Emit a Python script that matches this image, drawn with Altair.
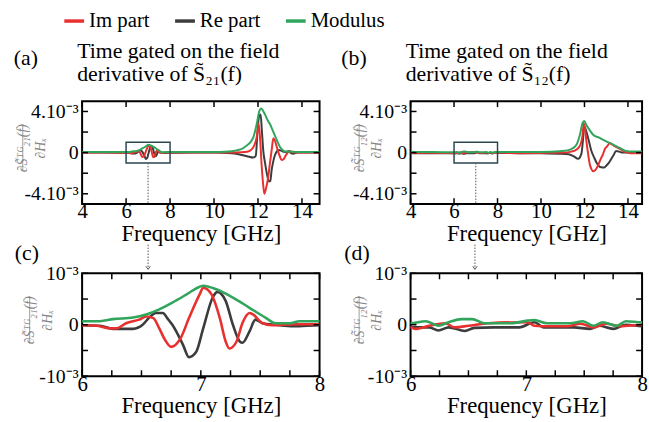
import altair as alt
import pandas as pd

# ---------------- data (values in units of 1e-3) ----------------
# S21 side : panels (a) and (c)
s21_im_f = [4.0, 5.0, 6.0, 6.12, 6.23, 6.29, 6.37, 6.48, 6.54, 6.6, 6.65, 6.7, 6.75, 6.83, 6.9, 6.99,
            7.02, 7.09, 7.16, 7.21, 7.24, 7.3, 7.35, 7.41, 7.44, 7.52, 7.6, 7.8, 8.0, 9.0, 10.0, 11.0,
            11.4, 11.6, 11.75, 11.86, 11.95, 12.03, 12.1, 12.17, 12.23, 12.29, 12.35, 12.47, 12.55,
            12.62, 12.7, 12.78, 12.85, 12.92, 13.0, 13.08, 13.16, 13.23, 13.3, 13.38, 13.45, 13.55,
            13.7, 14.0, 14.8]
s21_im_v = [0.0, 0.0, -0.01, -0.02, -0.07, -0.07, 0.03, 0.1, 0.16, 0.13, -0.07, -0.3, -0.43, -0.26,
            0.13, 0.59, 0.72, 0.59, 0.13, -0.33, -0.46, -0.33, 0.03, 0.23, 0.2, 0.03, -0.01, 0.01, 0.01,
            0.0, 0.0, 0.02, 0.05, 0.15, 0.4, 0.86, 1.6, 2.8, 1.2, -1.36, -3.0, -4.0, -3.6, -2.3, -0.9,
            0.22, 1.4, 1.1, 0.6, 0.07, -0.4, -0.73, -0.65, -0.4, -0.15, 0.05, 0.15, 0.05, 0.0, 0.0, 0.0]

s21_re_f = [4.0, 5.0, 6.0, 6.15, 6.26, 6.43, 6.51, 6.57, 6.62, 6.68, 6.72, 6.76, 6.85, 6.9, 6.96,
            7.02, 7.1, 7.14, 7.21, 7.27, 7.33, 7.35, 7.41, 7.46, 7.52, 7.63, 7.78, 8.0, 9.0, 10.0,
            10.8, 11.2, 11.5, 11.79, 11.9, 11.97, 12.05, 12.12, 12.18, 12.24, 12.32, 12.4, 12.5,
            12.56, 12.62, 12.7, 12.77, 12.85, 12.95, 13.1, 13.25, 13.4, 13.5, 13.6, 13.8, 14.2, 14.8]
s21_re_v = [0.0, 0.0, -0.01, -0.02, -0.08, -0.08, 0.0, 0.15, 0.23, 0.23, 0.12, 0.0, -0.39, -0.63,
            -0.53, -0.07, 0.53, 0.64, 0.46, 0.0, -0.33, -0.35, -0.13, 0.1, 0.03, 0.0, -0.03, -0.01,
            0.0, 0.0, -0.05, -0.2, -0.35, -0.48, -0.3, 1.8, 3.55, 3.7, 2.0, 0.2, -1.0, -2.0, -2.8,
            -2.75, -1.7, -0.8, -0.26, 0.1, 0.25, 0.15, 0.05, 0.15, -0.05, -0.1, 0.0, 0.0, 0.0]

s21_mod_f = [4.0, 5.0, 6.0, 6.15, 6.26, 6.43, 6.54, 6.65, 6.76, 6.88, 6.99, 7.02, 7.13, 7.27, 7.41,
             7.55, 7.63, 7.75, 7.83, 8.0, 9.0, 10.0, 10.5, 11.03, 11.3, 11.49, 11.65, 11.79, 11.94,
             12.06, 12.14, 12.22, 12.32, 12.45, 12.55, 12.66, 12.77, 12.9, 13.0, 13.12, 13.23, 13.4,
             13.6, 14.0, 14.8]
s21_mod_v = [0.05, 0.05, 0.07, 0.07, 0.11, 0.14, 0.2, 0.3, 0.43, 0.59, 0.74, 0.76, 0.69, 0.53, 0.33,
             0.13, 0.03, 0.03, 0.07, 0.07, 0.05, 0.05, 0.08, 0.22, 0.4, 0.7, 1.0, 1.5, 2.76, 4.03,
             4.3, 4.1, 3.7, 3.1, 2.76, 2.2, 1.65, 1.0, 0.54, 0.25, 0.1, 0.1, 0.08, 0.05, 0.05]

# S12 side : panels (b) and (d)
s12_im_f = [4.0, 5.0, 5.6, 6.0, 6.04, 6.16, 6.3, 6.38, 6.5, 6.67, 7.01, 7.07, 7.2, 7.35, 7.47, 7.58,
            7.69, 7.81, 8.0, 8.5, 9.0, 10.0, 11.0, 11.4, 11.64, 11.8, 11.9, 11.97, 12.03, 12.09,
            12.16, 12.24, 12.32, 12.4, 12.5, 12.62, 12.75, 12.85, 12.95, 13.05, 13.15, 13.3, 13.45,
            13.6, 13.75, 13.9, 14.1, 14.65]
s12_im_v = [-0.03, -0.02, -0.04, -0.05, -0.08, -0.02, 0.03, -0.05, -0.02, 0.03, 0.05, -0.02, -0.03,
            -0.03, 0.02, -0.05, 0.02, -0.03, 0.0, -0.03, -0.05, -0.03, 0.0, 0.1, 0.3, 0.7, 1.5, 2.86,
            2.2, 1.1, 0.0, -1.1, -1.6, -1.81, -1.7, -1.27, -0.6, -0.16, 0.4, 0.63, 0.9, 0.75, 0.55,
            0.4, 0.2, 0.05, -0.05, -0.05]

s12_re_f = [4.0, 5.0, 6.0, 6.16, 6.24, 6.33, 6.47, 6.55, 6.72, 6.94, 7.07, 7.15, 7.41, 7.55, 7.63,
            7.75, 7.86, 8.0, 9.0, 10.0, 10.8, 11.27, 11.5, 11.71, 11.86, 11.93, 11.99, 12.08, 12.17,
            12.32, 12.45, 12.55, 12.77, 12.9, 13.0, 13.12, 13.23, 13.35, 13.45, 13.6, 13.75, 14.0,
            14.65]
s12_re_v = [-0.05, -0.05, -0.05, -0.05, -0.11, -0.05, -0.12, -0.06, -0.05, -0.05, 0.05, -0.05, -0.05,
            -0.08, -0.02, -0.08, 0.0, -0.03, -0.05, -0.05, -0.1, -0.16, -0.35, -0.6, -0.1, 1.2, 2.54,
            2.1, 1.4, 0.16, -0.5, -0.95, -1.43, -1.45, -1.27, -1.0, -0.63, -0.2, 0.16, 0.1, 0.0, 0.0,
            0.0]

s12_mod_f = [4.0, 5.0, 6.0, 6.13, 6.24, 6.33, 6.44, 6.53, 6.64, 6.87, 7.01, 7.07, 7.18, 7.38, 7.49,
             7.58, 7.66, 7.78, 7.86, 8.0, 9.0, 10.0, 11.0, 11.4, 11.64, 11.79, 11.91, 11.99, 12.08,
             12.17, 12.4, 12.7, 13.0, 13.3, 13.6, 13.9, 14.2, 14.65]
s12_mod_v = [0.05, 0.06, 0.03, 0.07, -0.02, 0.05, 0.11, 0.11, 0.03, 0.03, 0.08, 0.09, 0.03, 0.03,
             0.07, -0.02, 0.05, -0.02, 0.07, 0.05, 0.06, 0.05, 0.15, 0.35, 0.8, 1.74, 2.86, 3.08,
             2.7, 2.4, 1.74, 1.43, 1.1, 0.8, 0.48, 0.16, 0.1, 0.1]

SERIES = ["Im part", "Re part", "Modulus"]
COLORS = ["#e8302e", "#3c3c3c", "#31a55c"]
DRAW_ORDER = ["Re part", "Im part", "Modulus"]

big_ticks_x = [4, 6, 8, 10, 12, 14]
big_ticks_y = [-4, -2, 0, 2, 4]
big_labels_y = [-4, 0, 4]
zoom_ticks_x = [6, 6.25, 6.5, 6.75, 7, 7.25, 7.5, 7.75, 8]
zoom_labels_x = [6, 7, 8]
zoom_ticks_y = [-1, -0.5, 0, 0.5, 1]
zoom_labels_y = [-1, 0, 1]

FONT = "Liberation Serif"


def make_df(parts):
    rows = []
    for name, f, v in parts:
        for a, b in zip(f, v):
            rows.append({"series": name, "f": a, "v": b})
    return pd.DataFrame(rows)


df21 = make_df([("Re part", s21_re_f, s21_re_v), ("Im part", s21_im_f, s21_im_v),
                ("Modulus", s21_mod_f, s21_mod_v)])
df12 = make_df([("Re part", s12_re_f, s12_re_v), ("Im part", s12_im_f, s12_im_v),
                ("Modulus", s12_mod_f, s12_mod_v)])

legend = alt.Legend(orient="none", legendX=-20, legendY=-93, direction="horizontal", title=None,
                    symbolType="stroke", symbolStrokeWidth=3.5, symbolSize=400,
                    labelFont=FONT, labelFontSize=21, labelColor="black", labelOffset=3,
                    columnPadding=18, padding=0)


def panel(df, W, H, xdom, ydom, xlabels, xticks, ylabels, yticks, ylabel_expr, tag, tag_xy,
          title_text, sub, frac_x, lw, box=None, drop=None, arrow=None, anchor=False):
    xs = alt.Scale(domain=xdom, nice=False, zero=False)
    ys = alt.Scale(domain=ydom, nice=False, zero=False)
    xaxis = alt.Axis(values=xlabels, format="~g", ticks=False, domain=False, grid=False,
                     labelFont=FONT, labelFontSize=21, labelColor="black", labelPadding=-3,
                     labelFlush=False, labelOverlap=False,
                     title="Frequency [GHz]", titleFont=FONT, titleFontSize=23,
                     titleFontWeight="normal", titleColor="black", titlePadding=1)
    yaxis = alt.Axis(values=ylabels, labelExpr=ylabel_expr, ticks=False, domain=False, grid=False,
                     labelFont=FONT, labelFontSize=20, labelColor="black", labelPadding=4,
                     labelOverlap=False,
                     title=["\u2202S\u0303\u1d40\u1d33" + sub + "(f)", "\u2202H\u2093"],
                     titleAngle=270, titleX=frac_x, titleY=H / 2 - 5, titleAlign="center",
                     titleBaseline="middle", titleFont=FONT, titleFontSize=14,
                     titleFontStyle="italic", titleFontWeight="normal", titleColor="#858585",
                     titleLineHeight=18)
    layers = []
    base = alt.Chart(df)
    # data lines first: they carry the axes
    for name in DRAW_ORDER:
        layers.append(
            base.transform_filter(alt.datum.series == name)
            .mark_line(clip=True, interpolate="monotone", strokeWidth=lw)
            .encode(x=alt.X("f:Q", scale=xs, axis=xaxis),
                    y=alt.Y("v:Q", scale=ys, axis=yaxis),
                    color=alt.Color("series:N", scale=alt.Scale(domain=SERIES, range=COLORS),
                                    legend=legend))
        )
    L = 6
    tx = alt.Chart(pd.DataFrame({"t": xticks}))
    ty = alt.Chart(pd.DataFrame({"t": yticks}))
    tstyle = dict(color="black", strokeWidth=1.5)
    layers += [
        tx.mark_rule(**tstyle).encode(x=alt.X("t:Q", scale=xs, axis=xaxis), y=alt.value(H - L), y2=alt.value(H)),
        tx.mark_rule(**tstyle).encode(x=alt.X("t:Q", scale=xs, axis=xaxis), y=alt.value(0), y2=alt.value(L)),
        ty.mark_rule(**tstyle).encode(y=alt.Y("t:Q", scale=ys, axis=yaxis), x=alt.value(0), x2=alt.value(L)),
        ty.mark_rule(**tstyle).encode(y=alt.Y("t:Q", scale=ys, axis=yaxis), x=alt.value(W - L), x2=alt.value(W)),
    ]
    if box is not None:
        bdf = pd.DataFrame({"x1": [box[0]], "x2": [box[1]], "y1": [box[2]], "y2": [box[3]]})
        layers.append(alt.Chart(bdf).mark_rect(filled=False, stroke="#2d4650", strokeWidth=1.5)
                      .encode(x=alt.X("x1:Q", scale=xs, axis=xaxis), x2="x2",
                              y=alt.Y("y1:Q", scale=ys, axis=yaxis), y2="y2"))
    if drop is not None:
        ddf = pd.DataFrame({"x": [drop[0]], "y1": [drop[1]], "y2": [ydom[0]]})
        layers.append(alt.Chart(ddf).mark_rule(color="#555555", strokeWidth=1, strokeDash=[1.5, 1.5])
                      .encode(x=alt.X("x:Q", scale=xs, axis=xaxis),
                              y=alt.Y("y1:Q", scale=ys, axis=yaxis), y2="y2"))
    if arrow is not None:
        adf = pd.DataFrame({"x": [arrow]})
        layers.append(alt.Chart(adf).mark_rule(color="#555555", strokeWidth=1, strokeDash=[1.5, 1.5], clip=False)
                      .encode(x=alt.X("x:Q", scale=xs, axis=xaxis), y=alt.value(-29), y2=alt.value(-5)))
        layers.append(alt.Chart(adf).mark_point(shape="M -0.7 -1 L 0 0 L 0.7 -1", filled=False,
                                                color="#555555", strokeWidth=1, size=40, opacity=1, clip=False)
                      .encode(x=alt.X("x:Q", scale=xs, axis=xaxis), y=alt.value(-4)))
    layers.append(alt.Chart(pd.DataFrame({"t": [tag]})).mark_text(
        font=FONT, fontSize=22, align="left", baseline="alphabetic", color="black")
        .encode(text="t:N", x=alt.value(tag_xy[0]), y=alt.value(tag_xy[1])))
    if title_text is not None:
        layers.append(alt.Chart(pd.DataFrame({"t": [title_text]})).mark_text(
            font=FONT, fontSize=22, align="left", baseline="alphabetic", color="black",
            lineBreak="\n", lineHeight=24)
            .encode(text="t:N", x=alt.value(-5), y=alt.value(-44)))
    # fraction bar of the y-axis label
    layers.append(alt.Chart(pd.DataFrame({"t": [0]})).mark_rule(color="#858585", strokeWidth=0.8)
                  .encode(x=alt.value(frac_x), y=alt.value(H / 2 - 5 - 24), y2=alt.value(H / 2 - 5 + 24)))
    if anchor:
        layers.append(alt.Chart(pd.DataFrame({"t": [0]})).mark_rule(opacity=0)
                      .encode(x=alt.value(-82), x2=alt.value(-81), y=alt.value(-99), y2=alt.value(-99)))
    return alt.layer(*layers).properties(width=W, height=H)


W1, W2, H = 240, 234, 104
big_expr = "datum.value > 0 ? '4.10\u207b\u00b3' : (datum.value < 0 ? '-4.10\u207b\u00b3' : '0\u2002\u2002')"
zoom_expr = "datum.value > 0 ? '10\u207b\u00b3' : (datum.value < 0 ? '-10\u207b\u00b3' : '0\u2002')"

pa = panel(df21, W1, H, [4, 14.8], [-5, 5], big_ticks_x, big_ticks_x, big_labels_y, big_ticks_y,
           big_expr, "(a)", (-69, -37), "Time gated on the field\nderivative of S\u0303\u2082\u2081(f)",
           "\u2082\u2081", -60, 2, box=(6, 8, -1, 1), drop=(7, -1), anchor=True)
pb = panel(df12, W2, H, [4, 14.65], [-5, 5], big_ticks_x, big_ticks_x, big_labels_y, big_ticks_y,
           big_expr, "(b)", (-70, -37), "Time gated on the field\nderivative of S\u0303\u2081\u2082(f)",
           "\u2081\u2082", -52, 2, box=(6, 8, -1, 1), drop=(7, -1))
pc = panel(df21, W1, H, [6, 8], [-1, 1], zoom_labels_x, zoom_ticks_x, zoom_labels_y, zoom_ticks_y,
           zoom_expr, "(c)", (-68, -13), None, "\u2082\u2081", -53, 2.6, arrow=6.556)
pd_ = panel(df12, W2, H, [6, 8], [-1, 1], zoom_labels_x, zoom_ticks_x, zoom_labels_y, zoom_ticks_y,
            zoom_expr, "(d)", (-67, -13), None, "\u2081\u2082", -52, 2.6, arrow=6.556)

chart = alt.concat(pa, pb, pc, pd_, columns=2, spacing={"row": 70, "column": 92}, bounds="flush",
                   padding=0, autosize=alt.AutoSizeParams(type="pad")
                   ).resolve_scale(color="shared").resolve_legend(color="shared"
                   ).configure_view(stroke="black", strokeWidth=2)

chart.save("out.html", embed_options={"renderer": "svg", "actions": False})
